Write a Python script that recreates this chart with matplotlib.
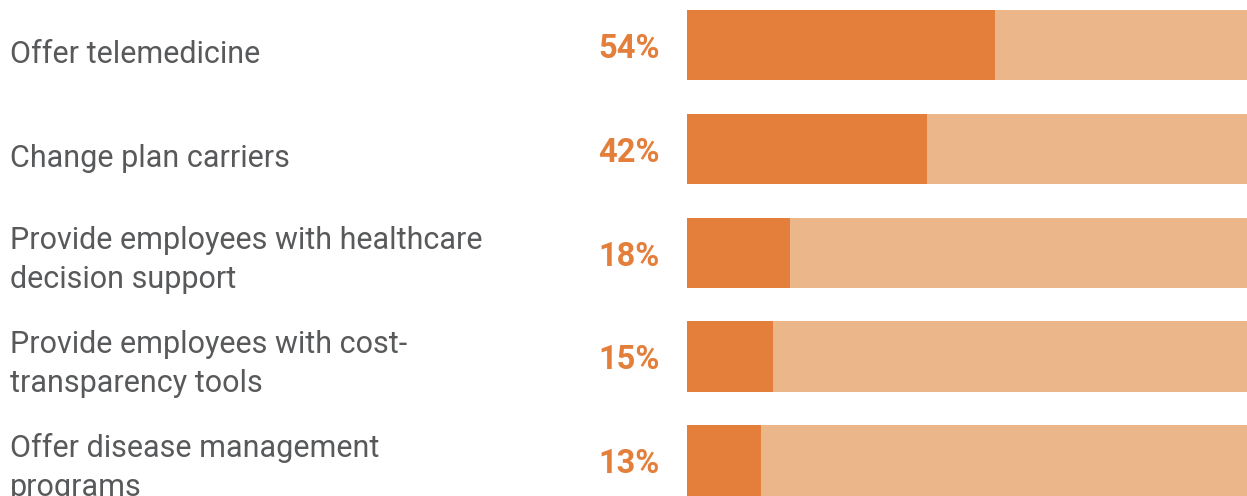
import matplotlib
matplotlib.use("Agg")
import matplotlib.pyplot as plt
from matplotlib.transforms import blended_transform_factory

categories = [
    "Offer telemedicine",
    "Change plan carriers",
    "Provide employees with healthcare\ndecision support",
    "Provide employees with cost-\ntransparency tools",
    "Offer disease management\nprograms",
]
values = [54, 42, 18, 15, 13]
total = [100, 100, 100, 100, 100]
value_labels = ["54%", "42%", "18%", "15%", "13%"]

dark = "#E37F3A"
light = "#EBB78A"
grey = "#58595B"

plt.rcParams["font.family"] = ["Roboto", "DejaVu Sans"]

fig = plt.figure(figsize=(12.47, 4.96), dpi=100)
ax = fig.add_axes([687 / 1247, 0, 560 / 1247, 1])

ypos = list(range(len(categories)))
ax.barh(ypos, total, height=0.68, color=light, linewidth=0)
ax.barh(ypos, values, height=0.68, color=dark, linewidth=0)
ax.set_xlim(0, 98.2)
ax.set_ylim(4.34, -0.433)
ax.axis("off")

tr = blended_transform_factory(fig.transFigure, ax.transData)
for y, cat, lab in zip(ypos, categories, value_labels):
    off = 0.173 if "\n" not in cat else 0.34
    ax.text(10 / 1247, y + off, cat, transform=tr, ha="left", va="baseline",
            fontsize=22, color=grey, fontweight="normal", linespacing=1.45,
            clip_on=False)
    ax.text(598 / 1247, y + 0.122, lab, transform=tr, ha="left", va="baseline",
            fontsize=23.5, color=dark, fontweight="bold", clip_on=False)

fig.savefig("out.png", dpi=100)
